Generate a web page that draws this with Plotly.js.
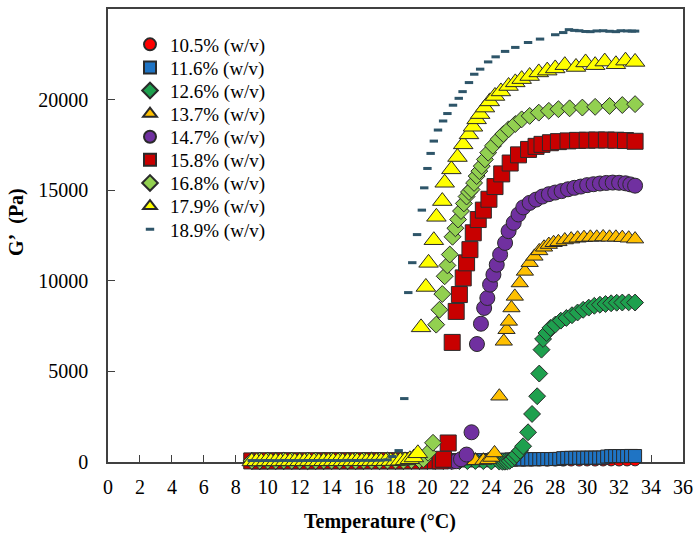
<!DOCTYPE html>
<html>
<head>
<meta charset="utf-8">
<script src="https://cdn.plot.ly/plotly-3.0.1.min.js"></script>
<style>
  html, body { margin: 0; padding: 0; background: #fff; }
  #chart { width: 694px; height: 535px; }
</style>
</head>
<body>
<div id="chart"></div>
<script>
// G' vs temperature for gel concentrations

const seriesNames = ['10.5% (w/v)', '11.6% (w/v)', '12.6% (w/v)', '13.7% (w/v)', '14.7% (w/v)',
                     '15.8% (w/v)', '16.8% (w/v)', '17.9% (w/v)', '18.9% (w/v)'];

const t105 = [9.0,9.5,10.0,10.5,11.0,11.5,12.0,12.5,13.0,13.5,14.0,14.5,15.0,15.5,16.0,16.5,17.0,17.5,18.0,18.5,
              19.0,19.5,20.0,20.5,21.0,21.5,22.0,22.5,23.0,23.5,24.0,24.5,25.0,25.5,26.0,26.5,27.0,27.5,28.0,28.5,
              29.0,29.5,30.0,30.5,31.0,31.5,32.0,32.5,33.0];
const g105 = [40,45,42,50,48,44,52,47,50,55,49,53,46,51,58,54,50,56,60,57,
              62,55,60,64,58,63,66,60,65,70,68,72,66,74,70,75,78,72,80,76,
              82,78,85,80,84,88,82,86,90];

const t116 = [9.0,9.5,10.0,10.5,11.0,11.5,12.0,12.5,13.0,13.5,14.0,14.5,15.0,15.5,16.0,16.5,17.0,17.5,18.0,18.5,
              19.0,19.5,20.0,20.5,21.0,21.5,22.0,22.5,23.0,23.5,24.0,24.5,
              25.0,25.25,25.5,25.75,26.0,26.25,26.5,26.75,27.0,27.25,27.5,27.75,28.0,28.25,28.5,28.75,
              29.0,29.25,29.5,29.75,30.0,30.25,30.5,30.75,31.0,31.25,31.5,31.75,32.0,32.25,32.5,32.75,33.0];
const g116 = [80,85,78,82,90,84,79,86,88,83,80,87,92,85,81,89,86,90,84,88,
              93,87,91,95,89,94,98,92,100,96,104,110,
              130,140,145,150,148,155,152,160,158,162,165,160,168,170,210,225,
              230,228,235,232,238,240,236,242,245,300,320,325,330,322,328,335,330];

const t126 = [9.0,9.5,10.0,10.5,11.0,11.5,12.0,12.5,13.0,13.5,14.0,14.5,15.0,15.5,16.0,16.5,17.0,17.5,18.0,18.5,
              19.0,19.5,20.0,20.5,21.0,21.5,22.0,22.5,23.0,23.5,24.0,24.5,
              24.7,24.85,25.0,25.15,25.3,25.45,25.58,25.8,25.99,26.3,26.55,26.87,27.0,27.14,27.24,27.45,
              27.7,28.0,28.35,28.7,29.05,29.4,29.75,30.1,30.45,30.8,31.15,31.5,31.85,32.2,32.6,33.0];
const g126 = [50,48,55,52,46,50,54,49,53,47,51,56,50,48,53,55,49,52,57,50,
              54,48,52,56,50,53,47,51,55,49,30,20,
              10,15,25,60,150,280,410,620,870,1640,2650,3630,4880,6200,6790,7120,
              7400,7580,7800,7950,8100,8250,8400,8520,8620,8680,8720,8760,8790,8800,8810,8800];

const t137 = [9.0,9.5,10.0,10.5,11.0,11.5,12.0,12.5,13.0,13.5,14.0,14.5,15.0,15.5,16.0,16.5,17.0,17.5,18.0,18.5,
              19.0,19.5,20.0,20.5,21.0,21.5,22.0,22.5,23.0,23.5,
              23.8,24.0,24.2,24.5,24.78,24.95,25.1,25.26,25.47,25.78,26.1,26.4,26.7,27.0,27.3,27.6,27.9,28.2,
              28.6,29.0,29.4,29.8,30.2,30.6,31.0,31.4,31.8,32.2,32.6,33.0];
const g137 = [45,50,47,52,49,55,51,48,53,50,56,52,49,54,51,57,53,50,55,58,
              52,56,60,54,58,62,57,60,65,80,
              120,250,500,3630,6660,7300,7760,8500,9140,9880,10520,11000,11350,11650,11850,12000,12100,12150,
              12250,12300,12350,12380,12400,12400,12420,12400,12400,12380,12350,12300];

const t147 = [9.0,9.5,10.0,10.5,11.0,11.5,12.0,12.5,13.0,13.5,14.0,14.5,15.0,15.5,16.0,16.5,17.0,17.5,18.0,18.5,
              19.0,19.5,20.0,20.5,21.0,
              21.3,21.55,21.8,22.1,22.45,22.76,23.1,23.35,23.55,23.75,23.92,24.13,24.34,24.55,24.86,25.08,
              25.4,25.7,26.0,26.4,26.8,27.2,27.6,28.0,28.4,28.8,29.2,29.6,30.0,30.4,30.8,31.2,31.6,32.0,
              32.4,32.7,33.0];
const g147 = [55,50,53,48,52,57,50,54,49,53,58,51,55,50,54,59,52,56,50,55,
              60,53,57,62,58,
              40,20,40,150,410,1640,6510,7630,8500,9050,9790,10340,10890,11450,12090,12740,
              13200,13660,14050,14300,14480,14650,14780,14870,14950,15050,15130,15200,15280,15330,15370,15400,15420,15410,
              15380,15320,15250];

const t158 = [9.0,9.5,10.0,10.5,11.0,11.5,12.0,12.5,13.0,13.5,14.0,14.5,15.0,15.5,16.0,16.5,17.0,17.5,18.0,18.5,
              19.0,19.5,20.0,20.5,
              20.8,21.0,21.3,21.55,21.8,22.0,22.24,22.45,22.66,22.87,23.18,23.5,23.85,24.23,24.65,25.18,
              25.7,26.33,26.8,27.17,27.7,28.2,28.8,29.4,30.0,30.6,31.2,31.8,32.4,33.0];
const g158 = [60,55,62,58,65,57,61,56,63,59,66,60,64,58,62,67,61,65,59,63,
              68,62,66,70,
              60,150,1050,6600,8310,9240,10160,10990,11720,12650,13380,13900,14500,15200,15900,16500,
              16950,17250,17420,17530,17620,17680,17720,17750,17760,17770,17770,17760,17740,17700];

const t168 = [9.0,9.5,10.0,10.5,11.0,11.5,12.0,12.5,13.0,13.5,14.0,14.5,15.0,15.5,16.0,16.5,17.0,17.5,18.0,18.5,
              19.0,19.5,
              19.75,20.04,20.35,20.55,20.75,20.93,21.08,21.25,21.4,21.57,21.75,21.92,22.1,22.28,22.45,22.6,
              22.76,22.92,23.08,23.25,23.4,23.6,23.8,24.1,24.45,24.75,25.08,25.5,25.9,26.4,26.97,27.6,
              28.2,28.9,29.7,30.5,31.4,32.2,33.0];
const g168 = [70,65,72,68,75,70,66,73,69,76,71,67,74,70,78,72,68,75,80,74,
              90,110,
              150,510,1060,7580,8400,9270,10250,10850,11450,12430,12900,13380,13850,14270,14650,14900,
              15040,15400,15780,16050,16330,16700,17070,17450,17810,18100,18360,18650,18910,19100,19280,19380,
              19470,19520,19560,19600,19650,19700,19750];

const t179 = [9.0,9.3,9.6,9.9,10.2,10.5,10.8,11.1,11.4,11.7,12.0,12.3,12.6,12.9,13.2,13.5,13.8,14.1,14.4,14.7,
              15.0,15.3,15.6,15.9,16.2,16.5,16.8,17.1,17.4,17.7,18.0,18.3,18.6,
              18.9,19.15,19.4,19.6,19.9,20.07,20.4,20.56,20.93,21.08,21.5,21.88,22.24,22.6,22.85,23.08,
              23.3,23.6,23.9,24.23,24.6,25.08,25.5,25.9,26.4,26.97,27.5,28.0,28.6,29.3,29.9,30.5,
              31.1,31.8,32.4,33.0];
const g179 = [30,35,28,40,33,38,30,42,36,32,40,35,44,38,33,41,37,45,39,34,
              43,38,46,40,36,44,48,42,50,46,55,70,90,
              150,250,480,7430,9660,10990,12240,13530,14400,15410,16150,16830,17530,18080,18500,18910,
              19200,19560,19900,20200,20450,20750,20950,21130,21300,21500,21600,21720,21900,21800,22050,21900,
              22100,21950,22150,22080];

const t189 = [9.0,9.5,10.0,10.5,11.0,11.5,12.0,12.5,13.0,13.5,14.0,14.5,15.0,15.5,16.0,16.5,17.0,17.5,
              17.8,18.2,18.55,18.8,19.05,19.35,19.65,19.8,20.0,20.2,20.4,20.66,20.98,21.25,21.6,21.96,
              22.2,22.6,22.93,23.3,23.8,24.27,24.86,25.5,26.3,27.05,28.0,28.5,28.86,29.2,29.5,29.9,
              30.2,30.6,31.0,31.4,31.8,32.1,32.5,32.8,33.0];
const g189 = [80,78,82,76,85,80,79,84,81,86,83,80,88,84,90,87,95,120,
              300,630,3500,9350,11000,12550,13900,15130,16200,17030,17710,18320,18820,19230,19690,20070,
              20440,20940,21400,21680,22080,22360,22660,22880,23150,23340,23580,23700,23860,23820,23800,23760,
              23750,23790,23800,23770,23750,23800,23790,23780,23780];

const xTicks = [0,2,4,6,8,10,12,14,16,18,20,22,24,26,28,30,32,34,36];
const yTicks = [0,5000,10000,15000,20000,25000];

// marker styles per series
const styles = [
    { symbol: 'circle',       color: '#FF0000', size: 11 },
    { symbol: 'square',       color: '#1F74C4', size: 13 },
    { symbol: 'diamond',      color: '#1EA04E', size: 13 },
    { symbol: 'triangle-up',  color: '#FFC000', size: 15 },
    { symbol: 'circle',       color: '#7030A0', size: 15 },
    { symbol: 'square',       color: '#C80000', size: 16 },
    { symbol: 'diamond',      color: '#92D050', size: 13 },
    { symbol: 'triangle-up',  color: '#FFFF00', size: 17 },
    { symbol: 'line-ew',      color: '#2E5569', size: 6 }
];

const xs = [t105, t116, t126, t137, t147, t158, t168, t179, t189];
const ys = [g105, g116, g126, g137, g147, g158, g168, g179, g189];

const FONT = 'Liberation Serif, Times New Roman, serif';

// plot area in pixels
const ML = 108, MR = 11, MT = 9, MB = 73;
const plotW = 694 - ML - MR, plotH = 535 - MT - MB;
const pxX = px => (px - ML) / plotW;
const pxY = py => (535 - MB - py) / plotH;

const traces = seriesNames.map((name, i) => {
    const s = styles[i];
    const isDash = s.symbol === 'line-ew';
    return {
        type: 'scatter',
        mode: 'markers',
        name: name,
        x: xs[i],
        y: ys[i],
        cliponaxis: false,
        legend: i === 0 ? 'legend' : 'legend' + (i + 1),
        marker: {
            symbol: s.symbol,
            size: s.size,
            color: s.color,
            line: isDash ? { color: s.color, width: 3 } : { color: '#2a2a2a', width: 1 }
        },
        hovertemplate: `<b>${name}</b><br>T: %{x} °C<br>G': %{y} Pa<extra></extra>`
    };
});

const layout = {
    width: 694,
    height: 535,
    margin: { l: ML, r: MR, t: MT, b: MB },
    paper_bgcolor: '#FFFFFF',
    plot_bgcolor: '#FFFFFF',
    font: { family: FONT, size: 20, color: '#000' },
    showlegend: true,
    xaxis: {
        range: [0, 36],
        tickvals: xTicks,
        ticks: 'inside',
        ticklen: 7,
        tickcolor: '#404040',
        showline: true,
        mirror: true,
        linecolor: '#404040',
        linewidth: 1.5,
        showgrid: false,
        zeroline: false,
        layer: 'below traces',
        ticklabelstandoff: 6,
        tickfont: { family: FONT, size: 20, color: '#000' }
    },
    yaxis: {
        range: [0, 25000],
        tickvals: yTicks,
        tickformat: 'd',
        ticks: 'inside',
        ticklen: 7,
        tickcolor: '#404040',
        showline: true,
        mirror: true,
        linecolor: '#404040',
        linewidth: 1.5,
        showgrid: false,
        zeroline: false,
        layer: 'below traces',
        ticklabelstandoff: 14,
        tickfont: { family: FONT, size: 20, color: '#000' }
    },
    annotations: [
        {
            text: '<b>Temperature (°C)</b>',
            xref: 'paper', yref: 'paper',
            x: pxX(380), y: pxY(521),
            xanchor: 'center', yanchor: 'middle',
            showarrow: false,
            font: { family: FONT, size: 20, color: '#000' }
        },
        {
            text: '<b>G’\u00a0 (Pa)</b>',
            xref: 'paper', yref: 'paper',
            x: pxX(17), y: pxY(222),
            xanchor: 'center', yanchor: 'middle',
            textangle: -90,
            showarrow: false,
            font: { family: FONT, size: 20, color: '#000' }
        }
    ]
};

// one legend per series so the rows can sit as close as in the original
seriesNames.forEach((name, i) => {
    const key = i === 0 ? 'legend' : 'legend' + (i + 1);
    layout[key] = {
        x: pxX(130),
        xanchor: 'left',
        y: pxY(44.5 + 23.1 * i),
        yanchor: 'middle',
        bgcolor: 'rgba(0,0,0,0)',
        borderwidth: 0,
        // the dash keeps its own small size, the others use one common size
        itemsizing: styles[i].symbol === 'line-ew' ? 'trace' : 'constant',
        font: { family: FONT, size: 19, color: '#000' }
    };
});

Plotly.newPlot('chart', traces, layout, { displayModeBar: false, responsive: false });
</script>
</body>
</html>
